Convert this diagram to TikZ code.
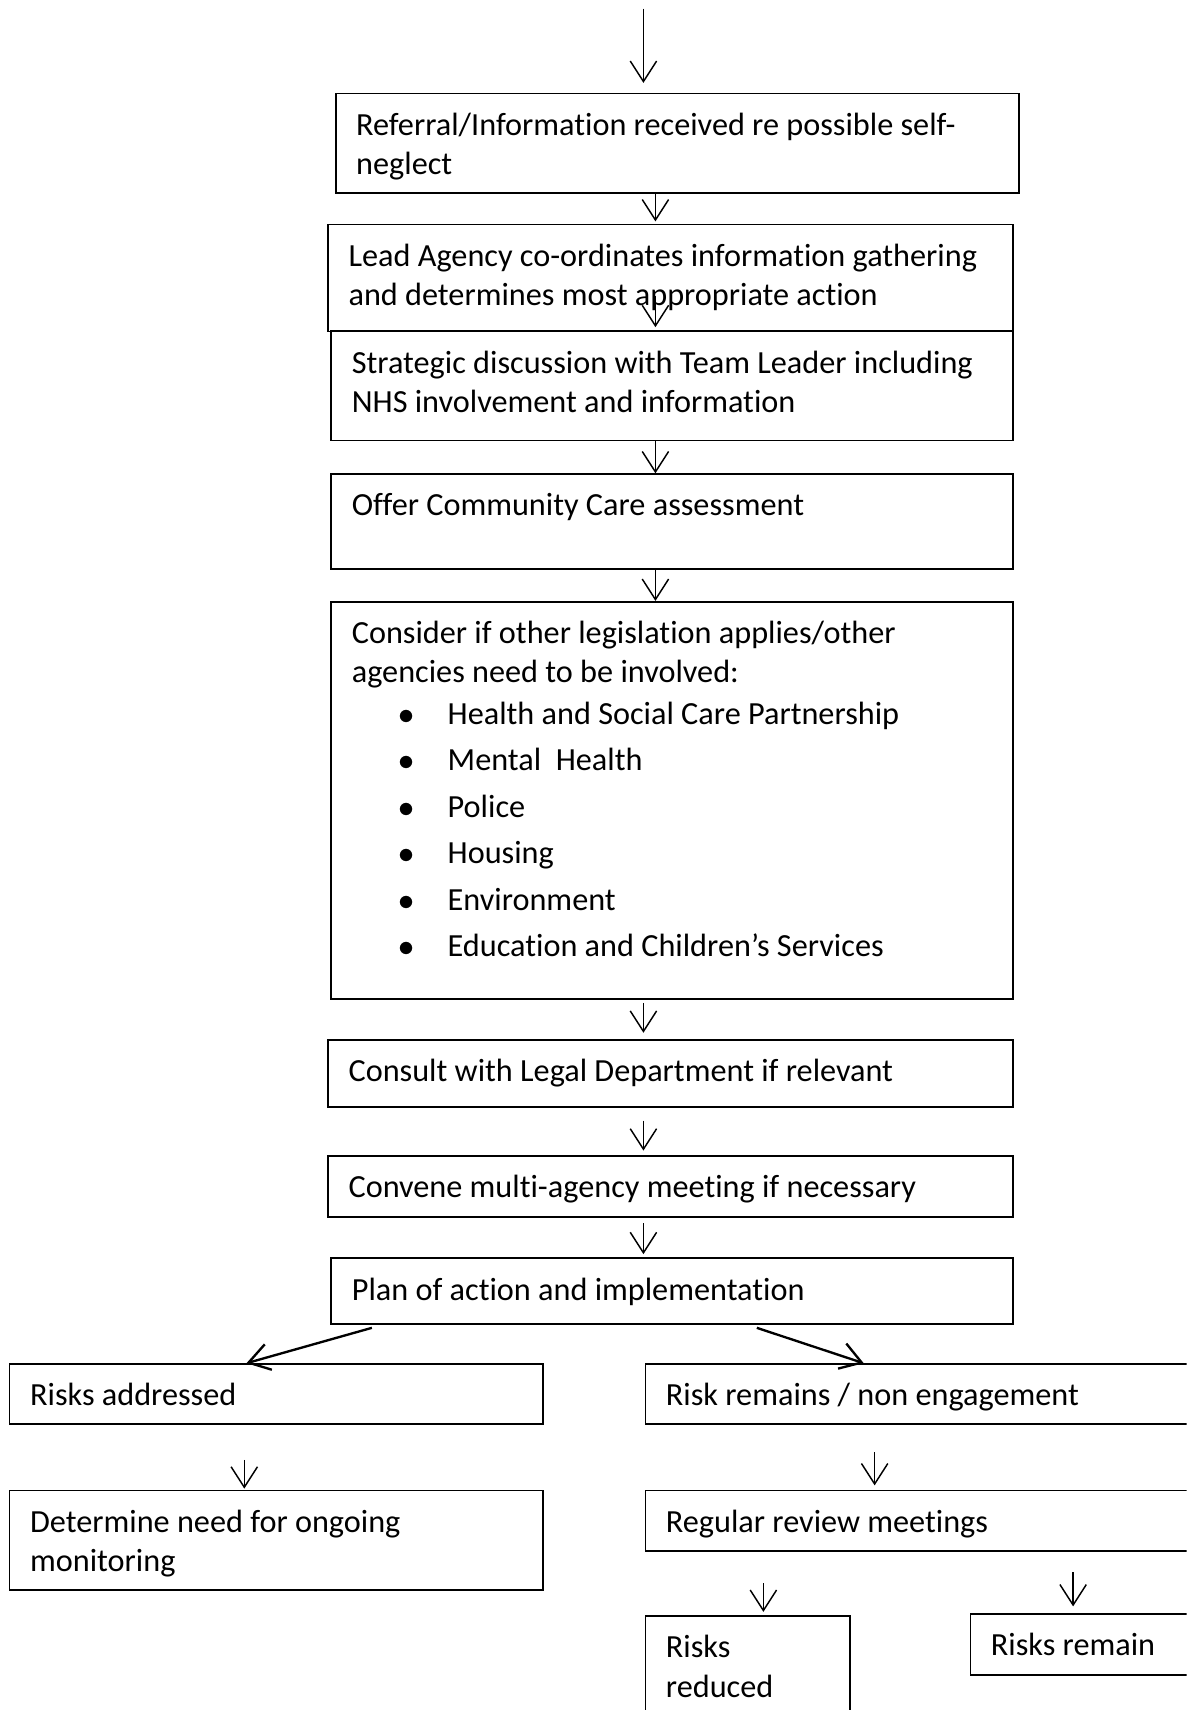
\documentclass[tikz,border=0pt]{standalone}
\usepackage{fontspec}
\setmainfont{Carlito}[Ligatures={NoCommon}]
\usetikzlibrary{arrows.meta,calc}

\newcommand{\bitem}[1]{\hspace*{15.9pt}\makebox[16.8pt][l]{$\bullet$}#1}

\begin{document}
\begin{tikzpicture}[x=0.372pt, y=-0.372pt,
  stepbox/.style={draw, line width=0.6pt, anchor=north west, align=flush left,
    inner xsep=7pt, inner ysep=0pt, text height=14.25pt,
    font=\fontsize{11}{13.4}\selectfont,
    execute at begin node={\spaceskip=0pt\xspaceskip=0pt}},
  % width, depth below first baseline, text width
  boxsize/.style n args={3}{minimum width=#1, text depth=#2, text width=#3},
  arr/.style={-{Straight Barb[length=7pt,width=9pt]}, line width=0.5pt},
  darr/.style={arr, line width=0.8pt}]

\clip (0,0) rectangle (1088,1568);

% main column
\node[stepbox, boxsize={233.2pt}{19.65pt}{219.2pt}] (ref) at (307,85)
  {Referral/Information received re possible self-\\neglect};
\node[stepbox, boxsize={233.6pt}{22.25pt}{219.6pt}] (lead) at (300,205)
  {Lead Agency co-ordinates information gathering\\and determines most appropriate action};
\node[stepbox, boxsize={232.5pt}{22.95pt}{218.5pt}] (strat) at (303,303)
  {Strategic discussion with Team Leader including\\NHS involvement and information};
\node[stepbox, boxsize={232.5pt}{18.15pt}{218.5pt}] (offer) at (303,434)
  {Offer Community Care assessment};
\node[stepbox, boxsize={232.5pt}{121.15pt}{218.5pt}] (cons) at (303,551)
  {Consider if other legislation applies/other\\
   agencies need to be involved:\\[0.7pt]
   \bitem{Health and Social Care Partnership}\\[2.45pt]
   \bitem{Mental\ \ Health}\\[2.45pt]
   \bitem{Police}\\[2.45pt]
   \bitem{Housing}\\[2.45pt]
   \bitem{Environment}\\[2.45pt]
   \bitem{Education and Children’s Services}};
\node[stepbox, boxsize={233.6pt}{8.45pt}{219.6pt}] (legal) at (300,953)
  {Consult with Legal Department if relevant};
\node[stepbox, boxsize={233.6pt}{6.55pt}{219.6pt}] (meet) at (300,1059)
  {Convene multi-agency meeting if necessary};
\node[stepbox, boxsize={232.5pt}{8.05pt}{218.5pt}] (plan) at (303,1153)
  {Plan of action and implementation};

% outcomes
\node[stepbox, boxsize={181.9pt}{6.25pt}{167.9pt}] (addr) at (8,1250)
  {Risks addressed};
\node[stepbox, boxsize={193.4pt}{6.25pt}{179.4pt}] (remn) at (591,1250)
  {Risk remains / non engagement};
\node[stepbox, boxsize={181.9pt}{19.65pt}{167.9pt}] (dmon) at (8,1366)
  {Determine need for ongoing\\monitoring};
\node[stepbox, boxsize={193.4pt}{6.25pt}{179.4pt}] (review) at (591,1366)
  {Regular review meetings};
\node[stepbox, boxsize={69.9pt}{19.65pt}{55.9pt}] (rred) at (591,1481)
  {Risks\\reduced};
\node[stepbox, boxsize={93pt}{6.55pt}{79pt}] (rrem) at (889,1479)
  {Risks remain};

% arrows
\coordinate (in) at (590,8);
\draw[arr] (in) -- ($(in |- ref.north)+(0,-9)$);

\foreach \ax/\src/\g/\tgt/\h in {601/ref/0/lead/2, 601/lead/-33/strat/3,
    601/strat/0/offer/0, 601/offer/0/cons/0, 590/cons/3/legal/6,
    590/legal/12/meet/4, 590/meet/5/plan/3, 224/addr/32/dmon/1,
    802/remn/25/review/4, 700/review/29/rred/3, 984/review/19/rrem/6}
  \draw[arr] ($(\ax,0 |- \src.south)+(0,\g)$) -- ($(\ax,0 |- \tgt.north)+(0,-\h)$);

\draw[darr] ($(341,0 |- plan.south)+(0,3)$) -- (226,0 |- addr.north);
\draw[darr] ($(694,0 |- plan.south)+(0,3)$) -- (792,0 |- remn.north);

\end{tikzpicture}
\end{document}
